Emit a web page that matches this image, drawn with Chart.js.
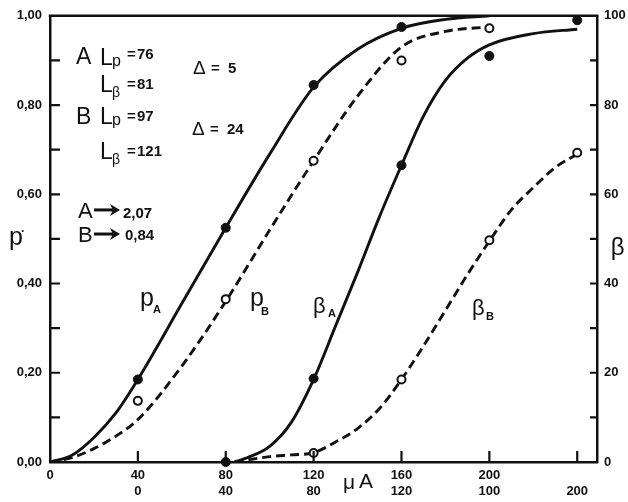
<!DOCTYPE html>
<html><head><meta charset="utf-8">
<script src="https://cdn.jsdelivr.net/npm/chart.js@4/dist/chart.umd.min.js"></script>
<style>html,body{margin:0;padding:0;background:#fff}</style>
</head><body>
<canvas id="c" width="628" height="502"></canvas>
<script>
// ---- tick labels ----
const xTickValues = [0, 40, 80, 120, 160, 200, 240];
const xTickRow1 = ['0', '40', '80', '120', '160', '200', ''];
const xTickRow2 = ['', '0', '40', '80', '120', '100', '200'];
const pTickValues = [0, 0.2, 0.4, 0.6, 0.8, 1.0];
const pTickLabels = ['0,00', '0,20', '0,40', '0,60', '0,80', '1,00'];
const betaTickValues = [0, 20, 40, 60, 80, 100];
const betaTickLabels = ['0', '20', '40', '60', '80', '100'];
const pMinorTicks = [0.1, 0.2, 0.3, 0.4, 0.5, 0.6, 0.7, 0.8, 0.9];
const betaMinorTicks = [10, 20, 30, 40, 50, 60, 70, 80, 90];
const xMarkTicks = [40, 80, 120, 160, 200, 240];

// ---- fitted curves ----
const pACurveX = [0, 10, 20, 30, 40, 60, 80, 100, 120, 140, 160, 180, 200];
const pACurveY = [0, 0.015, 0.055, 0.11, 0.185, 0.355, 0.525, 0.69, 0.84, 0.925, 0.972, 0.992, 1.0];
const pBCurveX = [0, 10, 20, 30, 40, 60, 80, 100, 120, 140, 160, 180, 200];
const pBCurveY = [0, 0.01, 0.03, 0.058, 0.095, 0.215, 0.36, 0.52, 0.675, 0.82, 0.93, 0.965, 0.975];
const betaACurveX = [84, 90, 100, 110, 120, 130, 140, 150, 160, 170, 180, 190, 200, 220, 240];
const betaACurveY = [0, 1, 3.5, 9, 18.5, 30.5, 42.5, 55, 66.5, 77.5, 85.5, 90.5, 93.5, 96, 97];
const betaBCurveX = [84, 100, 110, 120, 130, 140, 150, 160, 170, 180, 190, 200, 210, 220, 230, 240];
const betaBCurveY = [0, 1.2, 1.6, 2.1, 4.5, 7.5, 12, 18.5, 26, 34, 42, 49.5, 56.5, 61.5, 66, 69];

// ---- measured points ----
const pAPointX = [40, 80, 120, 160];
const pAPointY = [0.185, 0.525, 0.845, 0.975];
const pBPointX = [40, 80, 120, 160, 200];
const pBPointY = [0.137, 0.365, 0.675, 0.90, 0.972];
const betaAPointX = [80, 120, 160, 200, 240];
const betaAPointY = [0, 18.7, 66.5, 91, 99];
const betaBPointX = [120, 160, 200, 240];
const betaBPointY = [2, 18.5, 49.7, 69.3];

const INK = '#111';
const FAMILY = '"Liberation Sans", Arial, sans-serif';

function pts(xs, ys) { return xs.map((x, i) => ({ x: x, y: ys[i] })); }

function curve(label, xs, ys, axis, dash) {
  return { type: 'line', label: label, data: pts(xs, ys), yAxisID: axis,
    borderColor: INK, borderWidth: 2.9, borderDash: dash, borderCapStyle: 'butt',
    pointRadius: 0, fill: false, cubicInterpolationMode: 'monotone', order: 2 };
}
function marks(label, xs, ys, axis, filled) {
  return { type: 'line', label: label, data: pts(xs, ys), yAxisID: axis, showLine: false,
    pointRadius: filled ? 4.5 : 4, pointBackgroundColor: filled ? INK : '#fff',
    pointBorderColor: INK, pointBorderWidth: filled ? 1 : 2, clip: false, order: 0 };
}

// annotation texts (anchor in data coords of x / p axes)
const annotations = [
  { x: 11.83, y: 0.893, parts: [
    { t: 'A', s: 23, dx: 0, dy: 0 }, { t: 'L', s: 23, dx: 24, dy: 1 }, { t: 'p', s: 16, dx: 36, dy: 2 },
    { t: '=', s: 15, b: 1, dx: 51, dy: -5 }, { t: '76', s: 15, b: 1, dx: 61, dy: -5 } ] },
  { x: 22.76, y: 0.830, parts: [
    { t: 'L', s: 23, dx: 0, dy: 0 }, { t: 'β', s: 14, dx: 12, dy: 5 },
    { t: '=', s: 15, b: 1, dx: 27, dy: -3 }, { t: '81', s: 15, b: 1, dx: 37, dy: -3 } ] },
  { x: 11.83, y: 0.757, parts: [
    { t: 'B', s: 23, dx: 0, dy: 0 }, { t: 'L', s: 23, dx: 24, dy: 0 }, { t: 'p', s: 16, dx: 36, dy: 1 },
    { t: '=', s: 15, b: 1, dx: 51, dy: -3 }, { t: '97', s: 15, b: 1, dx: 61, dy: -3 } ] },
  { x: 22.76, y: 0.679, parts: [
    { t: 'L', s: 23, dx: 0, dy: 0 }, { t: 'β', s: 14, dx: 12, dy: 5 },
    { t: '=', s: 15, b: 1, dx: 27, dy: -3 }, { t: '121', s: 15, b: 1, dx: 37, dy: -3 } ] },
  { x: 65.1, y: 0.871, parts: [
    { t: 'Δ', s: 19, dx: 0, dy: 1 }, { t: '=', s: 15, b: 1, dx: 18, dy: 0 }, { t: '5', s: 15, b: 1, dx: 35, dy: 0 } ] },
  { x: 64.6, y: 0.734, parts: [
    { t: 'Δ', s: 19, dx: 0, dy: 1 }, { t: '=', s: 15, b: 1, dx: 18, dy: 0 }, { t: '24', s: 15, b: 1, dx: 35, dy: 0 } ] },
  { x: 12.74, y: 0.547, parts: [
    { t: 'A', s: 22, dx: 0, dy: 0 }, { arrow: 1, dx: 16, len: 26, dy: -8 }, { t: '2,07', s: 15, b: 1, dx: 45, dy: 0 } ] },
  { x: 12.74, y: 0.493, parts: [
    { t: 'B', s: 22, dx: 0, dy: 0 }, { arrow: 1, dx: 16, len: 26, dy: -8 }, { t: '0,84', s: 15, b: 1, dx: 47, dy: -2 } ] },
  { x: 40.96, y: 0.350, parts: [ { t: 'p', s: 25, dx: 0, dy: 0 }, { t: 'A', s: 11, b: 1, dx: 13, dy: 7 } ] },
  { x: 91.03, y: 0.350, parts: [ { t: 'p', s: 25, dx: 0, dy: 0 }, { t: 'B', s: 11, b: 1, dx: 11, dy: 9 } ] },
  { x: 119.7, y: 0.335, parts: [ { t: 'β', s: 22, dx: 0, dy: 0 }, { t: 'A', s: 11, b: 1, dx: 15, dy: 4 } ] },
  { x: 192.1, y: 0.330, parts: [ { t: 'β', s: 22, dx: 0, dy: 0 }, { t: 'B', s: 11, b: 1, dx: 14, dy: 5 } ] },
  { x: -18.66, y: 0.487, parts: [ { t: 'p', s: 25, dx: 0, dy: 0 }, { t: '.', s: 12, b: 1, dx: 12, dy: -13 } ] },
  { x: 255.3, y: 0.464, parts: [ { t: 'β', s: 24, dx: 0, dy: 0 } ] },
  { x: 133.4, y: -0.058, parts: [ { t: 'μ', s: 21, dx: 0, dy: 1 }, { t: 'A', s: 21, dx: 16, dy: 0 } ] }
];

const framePlugin = {
  id: 'frame',
  afterDraw(chart) {
    const ctx = chart.ctx, a = chart.chartArea;
    const sx = chart.scales.x, sy = chart.scales.y, sy2 = chart.scales.y2;
    ctx.save();
    ctx.strokeStyle = INK; ctx.lineWidth = 2.5; ctx.lineCap = 'square';
    ctx.beginPath(); ctx.moveTo(a.left, a.top); ctx.lineTo(a.right, a.top); ctx.stroke();
    ctx.lineWidth = 2.2; ctx.lineCap = 'butt';
    ctx.beginPath();
    pMinorTicks.forEach(v => { const y = sy.getPixelForValue(v); ctx.moveTo(a.left, y); ctx.lineTo(a.left + 10, y); });
    betaMinorTicks.forEach(v => { const y = sy2.getPixelForValue(v); ctx.moveTo(a.right, y); ctx.lineTo(a.right - 7, y); });
    xMarkTicks.forEach(v => { const x = sx.getPixelForValue(v); ctx.moveTo(x, a.bottom); ctx.lineTo(x, a.bottom - 11); });
    ctx.stroke();
    // annotations
    ctx.fillStyle = INK; ctx.textBaseline = 'alphabetic'; ctx.textAlign = 'left';
    annotations.forEach(an => {
      const ax = sx.getPixelForValue(an.x), ay = sy.getPixelForValue(an.y);
      an.parts.forEach(p => {
        if (p.arrow) {
          const x0 = ax + p.dx, y0 = ay + p.dy, x1 = x0 + p.len;
          ctx.lineWidth = 3;
          ctx.beginPath(); ctx.moveTo(x0, y0); ctx.lineTo(x1 - 6, y0); ctx.stroke();
          ctx.beginPath(); ctx.moveTo(x1, y0); ctx.lineTo(x1 - 10, y0 - 6); ctx.lineTo(x1 - 7, y0); ctx.lineTo(x1 - 10, y0 + 6); ctx.closePath(); ctx.fill();
        } else {
          ctx.font = (p.b ? 'bold ' : '') + p.s + 'px ' + FAMILY;
          ctx.fillText(p.t, ax + p.dx, ay + p.dy);
        }
      });
    });
    ctx.restore();
  }
};

new Chart(document.getElementById('c'), {
  type: 'line',
  data: { datasets: [
    curve('pA fit', pACurveX, pACurveY, 'y', []),
    curve('pB fit', pBCurveX, pBCurveY, 'y', [9, 5]),
    curve('βA fit', betaACurveX, betaACurveY, 'y2', []),
    curve('βB fit', betaBCurveX, betaBCurveY, 'y2', [9, 5]),
    marks('pA', pAPointX, pAPointY, 'y', true),
    marks('pB', pBPointX, pBPointY, 'y', false),
    marks('βA', betaAPointX, betaAPointY, 'y2', true),
    marks('βB', betaBPointX, betaBPointY, 'y2', false)
  ] },
  options: {
    responsive: false, animation: false, devicePixelRatio: 1,
    layout: { padding: { top: 14, left: 0, right: 0, bottom: 0 } },
    plugins: { legend: { display: false }, tooltip: { enabled: false } },
    font: { family: FAMILY },
    scales: {
      x: {
        type: 'linear', min: 0, max: 249,
        afterBuildTicks: s => { s.ticks = xTickValues.map(v => ({ value: v })); },
        afterFit: s => { s.height = 40; },
        grid: { display: false, drawTicks: false },
        border: { display: true, color: INK, width: 2.5 },
        ticks: { autoSkip: false, maxRotation: 0, padding: 5, color: INK,
          font: { family: FAMILY, size: 13, weight: 'bold', lineHeight: 1.25 },
          callback: (v) => { const i = xTickValues.indexOf(v); return i < 0 ? '' : [xTickRow1[i], xTickRow2[i]]; } }
      },
      y: {
        type: 'linear', position: 'left', min: 0, max: 1,
        afterBuildTicks: s => { s.ticks = pTickValues.map(v => ({ value: v })); },
        afterFit: s => { s.width = 50; },
        grid: { display: false, drawTicks: false },
        border: { display: true, color: INK, width: 2.5 },
        ticks: { padding: 8, color: INK, font: { family: FAMILY, size: 13, weight: 'bold' },
          callback: (v) => { const i = pTickValues.indexOf(v); return i < 0 ? '' : pTickLabels[i]; } }
      },
      y2: {
        type: 'linear', position: 'right', min: 0, max: 100,
        afterBuildTicks: s => { s.ticks = betaTickValues.map(v => ({ value: v })); },
        afterFit: s => { s.width = 31; },
        grid: { display: false, drawTicks: false },
        border: { display: true, color: INK, width: 2.5 },
        ticks: { padding: 7, color: INK, font: { family: FAMILY, size: 13, weight: 'bold' },
          callback: (v) => { const i = betaTickValues.indexOf(v); return i < 0 ? '' : betaTickLabels[i]; } }
      }
    }
  },
  plugins: [framePlugin]
});
</script>
</body></html>
